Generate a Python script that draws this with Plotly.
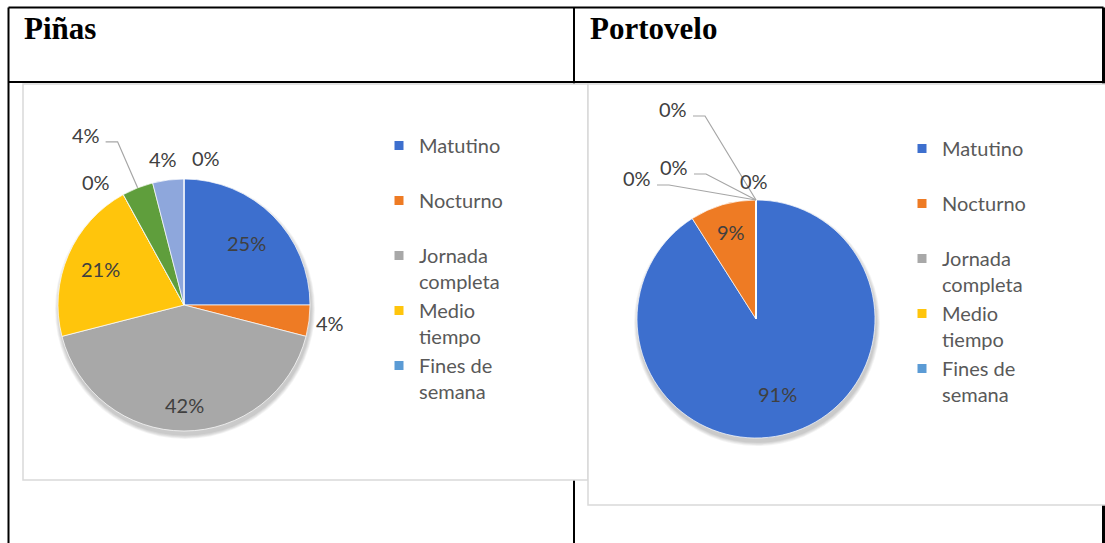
import math
import textwrap
import plotly.graph_objects as go

# ---------------- datos ----------------
titulos = ["Piñas", "Portovelo"]
categorias = ["Matutino", "Nocturno", "Jornada completa", "Medio tiempo", "Fines de semana"]

pinas_categorias = categorias + ["Categoría 6", "Categoría 7", "Categoría 8"]
pinas_porcentajes = [25, 4, 42, 21, 0, 4, 4, 0]

portovelo_categorias = categorias + ["Categoría 6"]
portovelo_porcentajes = [91, 9, 0, 0, 0, 0]

# ---------------- estilo ----------------
W, H = 1105, 543
COLORES = ["#3D6FCE", "#EE7B24", "#A8A8A8", "#FFC50C", "#5B9BD5", "#5F9E3C", "#8EA7DC", "#F4B183"]
TXT_PCT = "#404040"
TXT_LEY = "#595959"
FUENTE = "Lato"
GUIA = "#A6A6A6"
MARCO = "#D9D9D9"

# posicion de cada etiqueta: ("in", fraccion del radio) o ("out"/"guia", desplazamiento en px desde el borde)
pinas_etq = [("in", 0.70), ("out", (21, 2)), ("in", 0.79), ("in", 0.72),
             ("out", (-27, -13)), ("guia", (-52, -53)), ("out", (-5, -21)), ("out", (22, -21))]
porto_etq = [("in", 0.654), ("in", 0.76), ("out", (-2, -19)),
             ("guia", (-83, -91)), ("guia", (-82, -33)), ("guia", (-119, -22))]

# geometria de cada tarta en px: centro y radio
pinas_geo = dict(cx=184, cy=305, r=126)
porto_geo = dict(cx=756, cy=319, r=119)


def px(x):
    return x / W


def py(y):
    return 1 - y / H


fig = go.Figure()
shapes = []
annotations = []

# --- tabla (lineas negras) ---
TABLA = dict(x0=8.5, x1=1103.5, y0=7.5, ycab=82, xdiv=574)
for (x0, y0, x1, y1, ancho) in [
    (TABLA["x0"], TABLA["y0"], TABLA["x1"], TABLA["y0"], 2),
    (TABLA["x0"], TABLA["ycab"], TABLA["x1"], TABLA["ycab"], 2),
    (TABLA["x0"], TABLA["y0"], TABLA["x0"], H, 2),
    (TABLA["xdiv"], TABLA["y0"], TABLA["xdiv"], H, 2),
    (TABLA["x1"], TABLA["y0"], TABLA["x1"], H, 3),
]:
    shapes.append(dict(type="line", xref="paper", yref="paper", layer="below",
                       x0=px(x0), y0=py(y0), x1=px(x1), y1=py(y1),
                       line=dict(color="black", width=ancho)))

# --- marcos de los graficos ---
for (x0, y0, x1, y1) in [(23, 84, 588, 480), (588, 84, 1108, 505)]:
    shapes.append(dict(type="rect", xref="paper", yref="paper", layer="below",
                       x0=px(x0), y0=py(y0), x1=px(x1), y1=py(y1),
                       fillcolor="white", line=dict(color=MARCO, width=1.5)))

# --- titulos de la tabla ---
for titulo, xt in zip(titulos, [22, 588]):
    annotations.append(dict(text=titulo, xref="paper", yref="paper", x=px(xt), y=py(29),
                            xanchor="left", yanchor="middle", showarrow=False,
                            font=dict(family="Liberation Serif", size=31, color="black", weight="bold")))


def tarta(labels, valores, geo, etiquetas):
    cx, cy, r = geo["cx"], geo["cy"], geo["r"]
    # sombra difusa bajo la tarta
    for k in range(1, 6):
        rr = r + k * 0.8
        shapes.append(dict(type="circle", xref="paper", yref="paper", layer="below",
                           x0=px(cx + 1 - rr), x1=px(cx + 1 + rr),
                           y0=py(cy + 4 + rr), y1=py(cy + 4 - rr),
                           fillcolor="rgba(0,0,0,0.045)", line=dict(width=0)))
    fig.add_trace(go.Pie(
        labels=labels, values=valores, sort=False, direction="clockwise", rotation=0,
        marker=dict(colors=COLORES[:len(labels)], line=dict(color="rgba(255,255,255,0.7)", width=1)),
        textinfo="none", hoverinfo="label+percent", showlegend=False,
        domain=dict(x=[px(cx - r), px(cx + r)], y=[py(cy + r), py(cy - r)]),
    ))
    total = sum(valores)
    acum = 0
    for v, (modo, par) in zip(valores, etiquetas):
        ang = math.radians((acum + v / 2) / total * 360)
        acum += v
        texto = f"{round(v / total * 100)}%"
        if modo == "in":
            lx = cx + par * r * math.sin(ang)
            ly = cy - par * r * math.cos(ang)
        else:
            ex = cx + r * math.sin(ang)
            ey = cy - r * math.cos(ang)
            lx, ly = ex + par[0], ey + par[1]
            if modo == "guia":
                sx, sy = lx + 20, ly + 7
                path = (f"M {px(sx)},{py(sy)} L {px(sx + 12)},{py(sy)} "
                        f"L {px(ex)},{py(ey)}")
                shapes.append(dict(type="path", xref="paper", yref="paper", path=path,
                                   line=dict(color=GUIA, width=1.2)))
        annotations.append(dict(text=texto, xref="paper", yref="paper", x=px(lx), y=py(ly),
                                xanchor="center", yanchor="middle", showarrow=False,
                                font=dict(family=FUENTE, size=20, color=TXT_PCT)))


tarta(pinas_categorias, pinas_porcentajes, pinas_geo, pinas_etq)
tarta(portovelo_categorias, portovelo_porcentajes, porto_geo, porto_etq)


# --- leyendas: una entrada por categoria, todas de dos lineas ---
def nombre_leyenda(cat):
    lineas = textwrap.wrap(cat, 9)
    while len(lineas) < 2:
        lineas.append(" ")
    return "<br>".join(lineas)


for ley in ["legend", "legend2"]:
    for i, cat in enumerate(categorias):
        fig.add_trace(go.Scatter(
            x=[None], y=[None], mode="markers", name=nombre_leyenda(cat), legend=ley,
            marker=dict(symbol="square", size=9, color=COLORES[i]), hoverinfo="skip",
        ))

ley_comun = dict(xanchor="left", yanchor="top", bgcolor="rgba(0,0,0,0)", valign="top",
                 font=dict(family=FUENTE, size=20, color=TXT_LEY), tracegroupgap=0,
                 itemclick=False, itemdoubleclick=False)

fig.update_layout(
    width=W, height=H, margin=dict(l=0, r=0, t=0, b=0),
    paper_bgcolor="white", plot_bgcolor="rgba(0,0,0,0)",
    xaxis=dict(visible=False), yaxis=dict(visible=False),
    shapes=shapes, annotations=annotations,
    legend=dict(x=px(379), y=py(126), **ley_comun),
    legend2=dict(x=px(902), y=py(129), **ley_comun),
)

fig.write_html("out.html")
